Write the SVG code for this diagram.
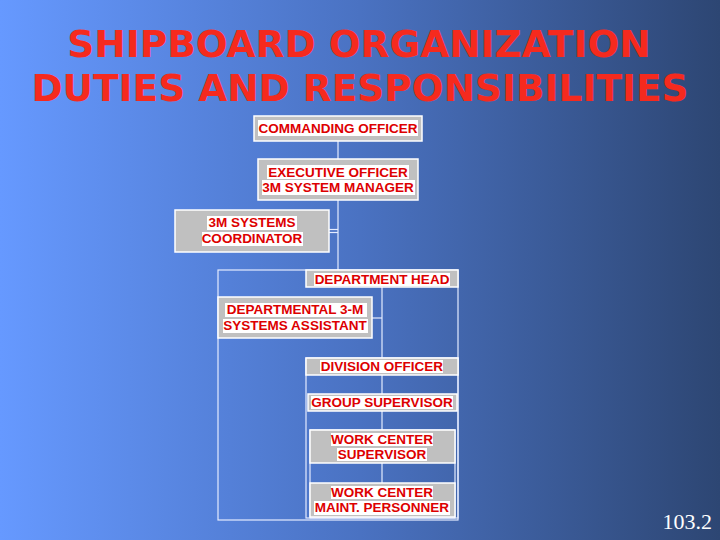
<svg xmlns="http://www.w3.org/2000/svg" width="720" height="540" viewBox="0 0 720 540">
<defs>
<linearGradient id="bg" x1="0" y1="0" x2="1" y2="0">
<stop offset="0" stop-color="#6699ff"/>
<stop offset="0.5" stop-color="#4a72c2"/>
<stop offset="1" stop-color="#2d4673"/>
</linearGradient>
</defs>
<style>
.title{font-family:"DejaVu Sans",Verdana,sans-serif;font-weight:bold;font-size:37.5px;fill:#f52a1e;text-anchor:middle}
.box{fill:#c0c0c0;stroke:#ffffff;stroke-width:1.5}
.hl{fill:#ffffff}
.lbl{font-family:"Liberation Sans",Arial,sans-serif;font-weight:bold;font-size:13.5px;fill:#dd0000;text-anchor:middle}
.ln{fill:none;stroke:#e4ecff;stroke-width:1.2}
.num{font-family:"Liberation Serif","Times New Roman",serif;font-size:22px;fill:#ffffff;text-anchor:end}
</style>
<rect x="0" y="0" width="720" height="540" fill="url(#bg)"/>
<text class="title" x="359" y="57">SHIPBOARD ORGANIZATION</text>
<text class="title" x="360" y="101">DUTIES AND RESPONSIBILITIES</text>
<g id="connectors">
<line class="ln" x1="338" y1="141" x2="338" y2="159"/>
<line class="ln" x1="338" y1="200" x2="338" y2="270"/>
<line class="ln" x1="329" y1="229.5" x2="338" y2="229.5"/>
<line class="ln" x1="329" y1="232.5" x2="338" y2="232.5"/>
<rect class="ln" x="218" y="270" width="240" height="250"/>
<line class="ln" x1="382" y1="287" x2="382" y2="483"/>
<line class="ln" x1="372" y1="318" x2="382" y2="318"/>
<rect class="ln" x="306" y="358" width="152" height="160"/>
<rect class="ln" x="310" y="430" width="145" height="88"/>
</g>
<g id="commanding-officer">
<rect class="box" x="254" y="116" width="168" height="25"/>
<rect class="hl" x="258" y="120" width="160" height="16"/>
<text class="lbl" x="338" y="133">COMMANDING OFFICER</text>
</g>
<g id="executive-officer">
<rect class="box" x="258" y="159" width="160" height="41"/>
<rect class="hl" x="267" y="165" width="142" height="14"/>
<rect class="hl" x="262" y="180" width="153" height="15"/>
<text class="lbl" x="338" y="177">EXECUTIVE OFFICER</text>
<text class="lbl" x="338" y="192">3M SYSTEM MANAGER</text>
</g>
<g id="systems-coordinator">
<rect class="box" x="175" y="210" width="154" height="42"/>
<rect class="hl" x="207" y="216" width="90" height="14"/>
<rect class="hl" x="202" y="232" width="101" height="14"/>
<text class="lbl" x="252" y="227">3M SYSTEMS</text>
<text class="lbl" x="252" y="243">COORDINATOR</text>
</g>
<g id="department-head">
<rect class="box" x="306" y="270" width="152" height="17"/>
<rect class="hl" x="314" y="273" width="136" height="13"/>
<text class="lbl" x="382" y="284">DEPARTMENT HEAD</text>
</g>
<g id="departmental-assistant">
<rect class="box" x="218" y="297" width="154" height="41"/>
<rect class="hl" x="225" y="303" width="142" height="14"/>
<rect class="hl" x="223" y="319" width="145" height="14"/>
<text class="lbl" x="295" y="314">DEPARTMENTAL 3-M</text>
<text class="lbl" x="295" y="330">SYSTEMS ASSISTANT</text>
</g>
<g id="division-officer">
<rect class="box" x="306" y="358" width="152" height="17"/>
<rect class="hl" x="320" y="360" width="123" height="13"/>
<text class="lbl" x="382" y="371">DIVISION OFFICER</text>
</g>
<g id="group-supervisor">
<rect class="box" x="308" y="394" width="149" height="17"/>
<rect class="hl" x="311" y="396" width="142" height="13"/>
<text class="lbl" x="382" y="407">GROUP SUPERVISOR</text>
</g>
<g id="work-center-supervisor">
<rect class="box" x="310" y="430" width="145" height="33"/>
<rect class="hl" x="331" y="433" width="102" height="13"/>
<rect class="hl" x="337" y="448" width="90" height="13"/>
<text class="lbl" x="382" y="444">WORK CENTER</text>
<text class="lbl" x="382" y="459">SUPERVISOR</text>
</g>
<g id="work-center-personnel">
<rect class="box" x="310" y="483" width="145" height="34"/>
<rect class="hl" x="331" y="486" width="102" height="13"/>
<rect class="hl" x="314" y="501" width="136" height="14"/>
<text class="lbl" x="382" y="497">WORK CENTER</text>
<text class="lbl" x="382" y="512">MAINT. PERSONNER</text>
</g>
<text class="num" x="712" y="529">103.2</text>
</svg>
